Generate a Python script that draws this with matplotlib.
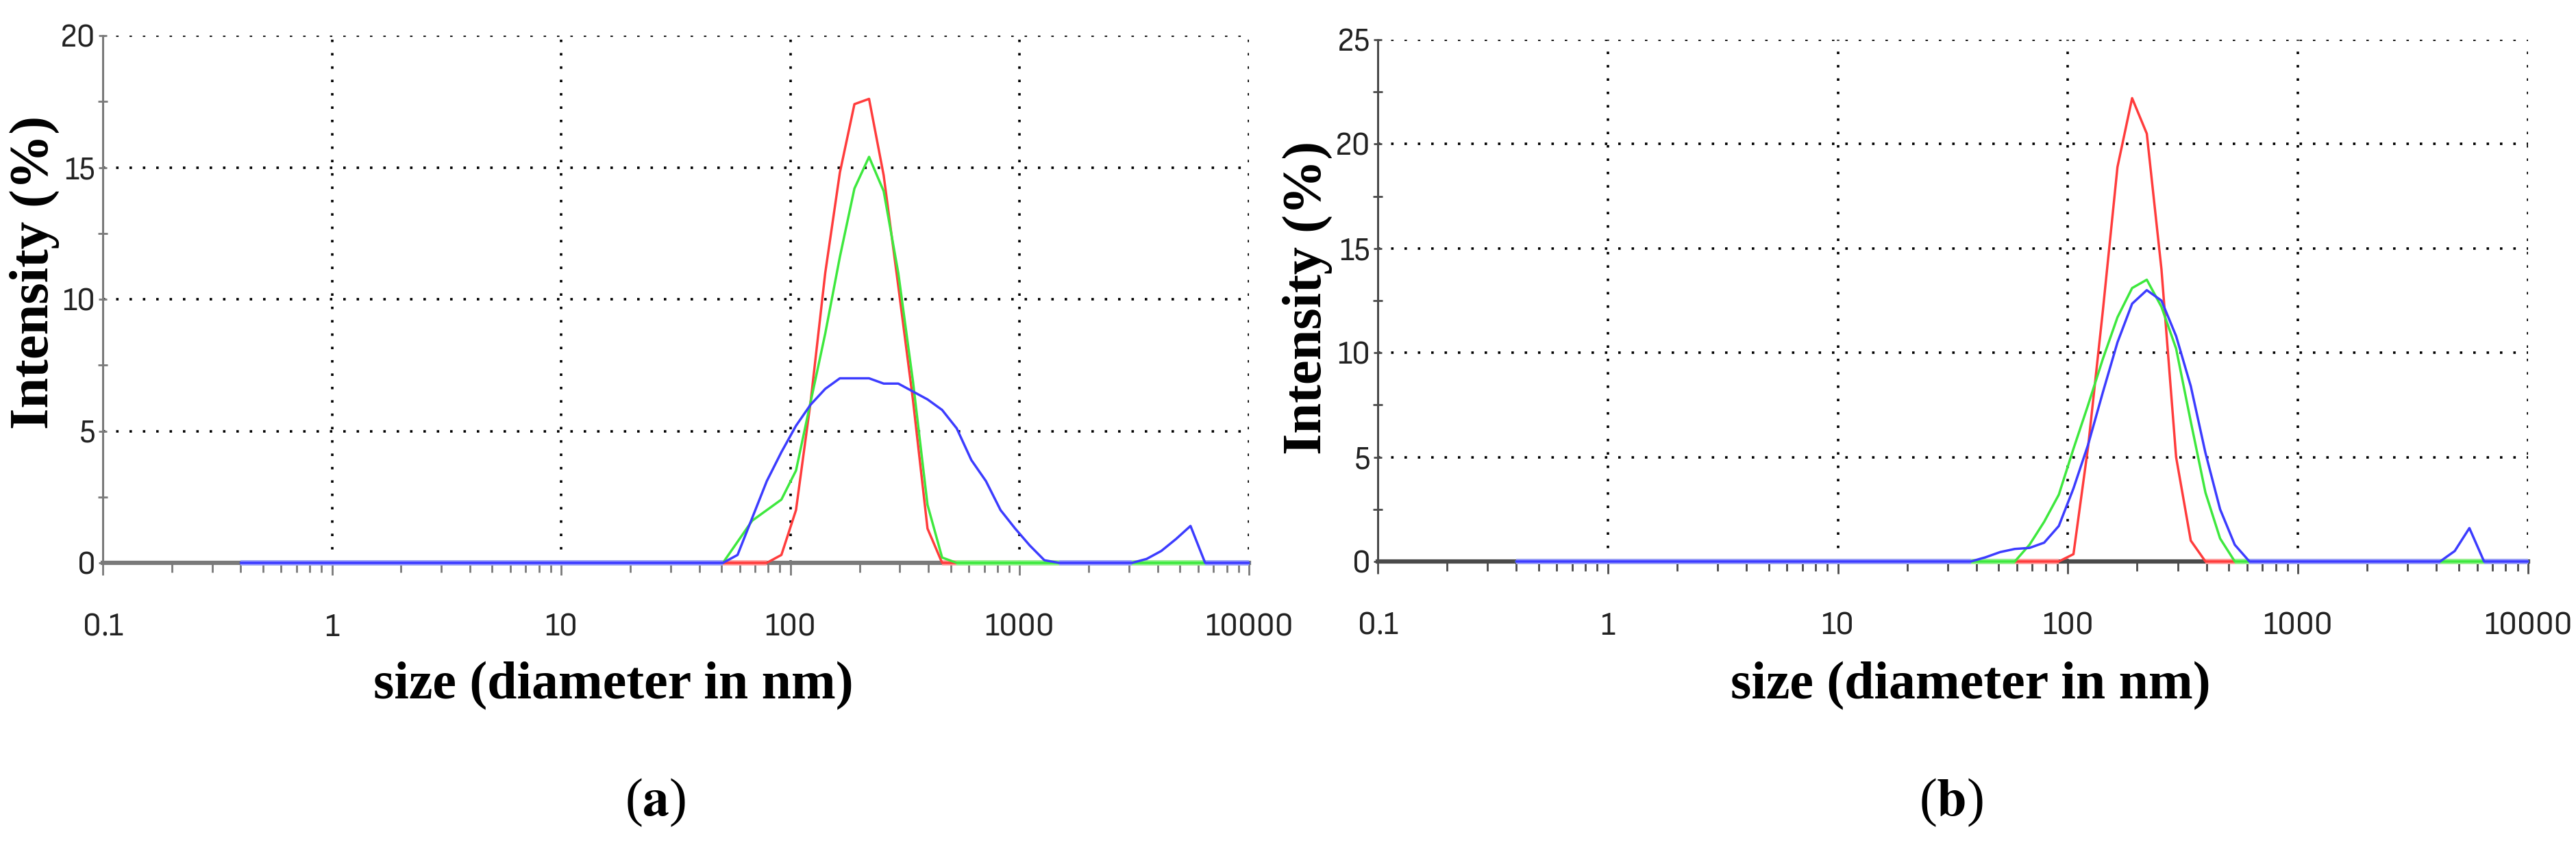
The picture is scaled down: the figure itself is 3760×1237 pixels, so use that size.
import numpy as np
import matplotlib
matplotlib.use("Agg")
import matplotlib.pyplot as plt
from matplotlib import font_manager as fm
from matplotlib.ticker import FixedLocator, NullFormatter

# ---------------- data ----------------
sizes_nm = [0.4, 0.4632, 0.5365, 0.6213, 0.7195, 0.8332, 0.9649, 1.117, 1.294, 1.499,
            1.736, 2.010, 2.328, 2.696, 3.122, 3.615, 4.187, 4.849, 5.615, 6.503,
            7.531, 8.721, 10.10, 11.70, 13.54, 15.69, 18.17, 21.04, 24.36, 28.21,
            32.67, 37.84, 43.82, 50.75, 58.77, 68.06, 78.82, 91.28, 105.7, 122.4,
            141.8, 164.2, 190.1, 220.2, 255.0, 295.3, 342.0, 396.1, 458.7, 531.2,
            615.1, 712.4, 825.0, 955.4, 1106, 1281, 1484, 1718, 1990, 2305,
            2669, 3091, 3580, 4145, 4801, 5560, 6439, 7456, 8635, 10000]

red_a = [0, 0, 0, 0, 0, 0, 0, 0, 0, 0,
         0, 0, 0, 0, 0, 0, 0, 0, 0, 0,
         0, 0, 0, 0, 0, 0, 0, 0, 0, 0,
         0, 0, 0, 0, 0, 0, 0, 0.3, 2.0, 6.1,
         11.0, 14.8, 17.4, 17.6, 14.7, 10.5, 6.2, 1.3, 0, 0,
         0, 0, 0, 0, 0, 0, 0, 0, 0, 0,
         0, 0, 0, 0, 0, 0, 0, 0, 0, 0]
green_a = [0, 0, 0, 0, 0, 0, 0, 0, 0, 0,
           0, 0, 0, 0, 0, 0, 0, 0, 0, 0,
           0, 0, 0, 0, 0, 0, 0, 0, 0, 0,
           0, 0, 0, 0, 0.8, 1.6, 2.0, 2.4, 3.5, 6.1,
           8.7, 11.6, 14.2, 15.4, 14.1, 11.0, 6.9, 2.2, 0.2, 0,
           0, 0, 0, 0, 0, 0, 0, 0, 0, 0,
           0, 0, 0, 0, 0, 0, 0, 0, 0, 0]
blue_a = [0, 0, 0, 0, 0, 0, 0, 0, 0, 0,
          0, 0, 0, 0, 0, 0, 0, 0, 0, 0,
          0, 0, 0, 0, 0, 0, 0, 0, 0, 0,
          0, 0, 0, 0, 0.3, 1.7, 3.1, 4.2, 5.2, 6.0,
          6.6, 7.0, 7.0, 7.0, 6.8, 6.8, 6.5, 6.2, 5.8, 5.1,
          3.9, 3.1, 2.0, 1.3, 0.66, 0.1, 0, 0, 0, 0,
          0, 0, 0.15, 0.45, 0.9, 1.4, 0, 0, 0, 0]

red_b = [0, 0, 0, 0, 0, 0, 0, 0, 0, 0,
         0, 0, 0, 0, 0, 0, 0, 0, 0, 0,
         0, 0, 0, 0, 0, 0, 0, 0, 0, 0,
         0, 0, 0, 0, 0, 0, 0, 0, 0.35, 5.5,
         12.0, 18.9, 22.2, 20.5, 14.0, 5.0, 1.0, 0, 0, 0,
         0, 0, 0, 0, 0, 0, 0, 0, 0, 0,
         0, 0, 0, 0, 0, 0, 0, 0, 0, 0]
green_b = [0, 0, 0, 0, 0, 0, 0, 0, 0, 0,
           0, 0, 0, 0, 0, 0, 0, 0, 0, 0,
           0, 0, 0, 0, 0, 0, 0, 0, 0, 0,
           0, 0, 0, 0, 0, 0.8, 1.9, 3.2, 5.4, 7.5,
           9.7, 11.7, 13.1, 13.5, 12.2, 10.2, 6.7, 3.3, 1.1, 0,
           0, 0, 0, 0, 0, 0, 0, 0, 0, 0,
           0, 0, 0, 0, 0, 0, 0, 0, 0, 0]
blue_b = [0, 0, 0, 0, 0, 0, 0, 0, 0, 0,
          0, 0, 0, 0, 0, 0, 0, 0, 0, 0,
          0, 0, 0, 0, 0, 0, 0, 0, 0, 0,
          0, 0, 0.2, 0.45, 0.6, 0.65, 0.9, 1.7, 3.5, 5.6,
          8.1, 10.5, 12.35, 13.0, 12.5, 10.8, 8.4, 5.2, 2.5, 0.8,
          0, 0, 0, 0, 0, 0, 0, 0, 0, 0,
          0, 0, 0, 0, 0.5, 1.6, 0, 0, 0, 0]

xtick_vals = [0.1, 1, 10, 100, 1000, 10000]
xtick_labels = ["0.1", "1", "10", "100", "1000", "10000"]
yticks_a = [0, 5, 10, 15, 20]
yticks_b = [0, 5, 10, 15, 20, 25]
ylabel_text = "Intensity (%)"
xlabel_text = "size (diameter in nm)"
panel_labels = ["a", "b"]

# ---------------- style ----------------
plt.rcParams["mathtext.fontset"] = "stix"
serif = ["Liberation Serif", "DejaVu Serif"]

# look for a narrow sans face for the tick numbers (the originals are tall/narrow)
narrow_path = None
for f in fm.fontManager.ttflist:
    nm = f.name.lower()
    if ("narrow" in nm or "condensed" in nm or str(f.stretch) in
            ("condensed", "semi-condensed")) and "sans" in nm and \
            "bold" not in f.fname.lower() and "italic" not in f.fname.lower() \
            and f.weight in (400, "normal", "regular"):
        narrow_path = f.fname
        if "liberation" in nm:
            break
if narrow_path:
    tick_fp = fm.FontProperties(fname=narrow_path, size=35)
else:
    tick_fp = fm.FontProperties(family=["Liberation Sans", "DejaVu Sans"], size=30)

W, H = 3760, 1237
fig = plt.figure(figsize=(W / 100, H / 100), dpi=100)

line_cols = ["#ff3c3c", "#3ee83e", "#3c3cff"]
band_cols = ["#ff9a9a", "#90f590", "#9a9aff"]


def setup(ax, ymax, yticks, spine_col):
    ax.set_xscale("log")
    ax.set_xlim(0.1, 10000)
    ax.set_ylim(0, ymax)
    for s in ("top", "right"):
        ax.spines[s].set_visible(False)
    ax.spines["left"].set_color(spine_col)
    ax.spines["left"].set_linewidth(2.2)
    ax.spines["bottom"].set_color(spine_col)
    ax.spines["bottom"].set_linewidth(4.5)
    ax.spines["left"].set_zorder(1)
    ax.spines["bottom"].set_zorder(1)
    ax.xaxis.set_major_locator(FixedLocator(xtick_vals))
    ax.set_xticklabels(xtick_labels)
    minors = [m * d for d in [0.1, 1, 10, 100, 1000] for m in range(2, 10)]
    ax.xaxis.set_minor_locator(FixedLocator(minors))
    ax.xaxis.set_minor_formatter(NullFormatter())
    ax.set_yticks(yticks)
    ax.set_yticklabels([str(v) for v in yticks])
    ax.yaxis.set_minor_locator(FixedLocator([v + 2.5 for v in yticks[:-1]]))
    ax.tick_params(axis="x", which="major", direction="out", length=13, width=2,
                   color=spine_col, pad=40, labelcolor="#222222")
    ax.tick_params(axis="x", which="minor", direction="out", length=10, width=2,
                   color=spine_col)
    ax.tick_params(axis="y", which="major", direction="inout", length=9, width=2,
                   color=spine_col, pad=3, labelcolor="#222222")
    ax.tick_params(axis="y", which="minor", direction="inout", length=10, width=2,
                   color=spine_col)
    for lab in ax.get_xticklabels() + ax.get_yticklabels():
        lab.set_fontproperties(tick_fp)
    ax.grid(True, which="major", color="black", linestyle=(0, (1.0, 4.4)),
            linewidth=2.6, zorder=0)
    ax.set_axisbelow(True)


def draw(ax, series):
    x = np.array(sizes_nm)
    for y, lc, bc in zip(series, line_cols, band_cols):
        y = np.array(y, dtype=float)
        zero = np.ma.masked_where(y != 0, y)
        ax.plot(x, zero, color=bc, lw=5.5, solid_capstyle="butt", zorder=3,
                clip_on=False)
        ax.plot(x, y, color=lc, lw=2.5, zorder=3, clip_on=False)


ax1 = fig.add_axes([150 / W, 1 - 822 / H, 1673 / W, 770 / H])
ax2 = fig.add_axes([2011 / W, 1 - 820 / H, 1679 / W, 762 / H])

setup(ax1, 20, yticks_a, "#7a7a7a")
setup(ax2, 25, yticks_b, "#4a4a4a")
draw(ax1, [red_a, green_a, blue_a])
draw(ax2, [red_b, green_b, blue_b])

# axis titles
fig.text(50 / W, 1 - 398 / H, ylabel_text, rotation=90, ha="center", va="center",
         family=serif, fontweight="bold", fontsize=58)
fig.text(1908 / W, 1 - 435 / H, ylabel_text, rotation=90, ha="center", va="center",
         family=serif, fontweight="bold", fontsize=58)
fig.text(895 / W, 1 - 1002 / H, xlabel_text, ha="center", va="center",
         family=serif, fontweight="bold", fontsize=56)
fig.text(2876 / W, 1 - 1002 / H, xlabel_text, ha="center", va="center",
         family=serif, fontweight="bold", fontsize=56)

# panel labels
fig.text(957 / W, 1 - 1172 / H, "($\\mathbf{%s}$)" % panel_labels[0], ha="center",
         va="center", family=serif, fontsize=56)
fig.text(2848 / W, 1 - 1172 / H, "($\\mathbf{%s}$)" % panel_labels[1], ha="center",
         va="center", family=serif, fontsize=56)

fig.savefig("out.png", dpi=100, facecolor="white")
